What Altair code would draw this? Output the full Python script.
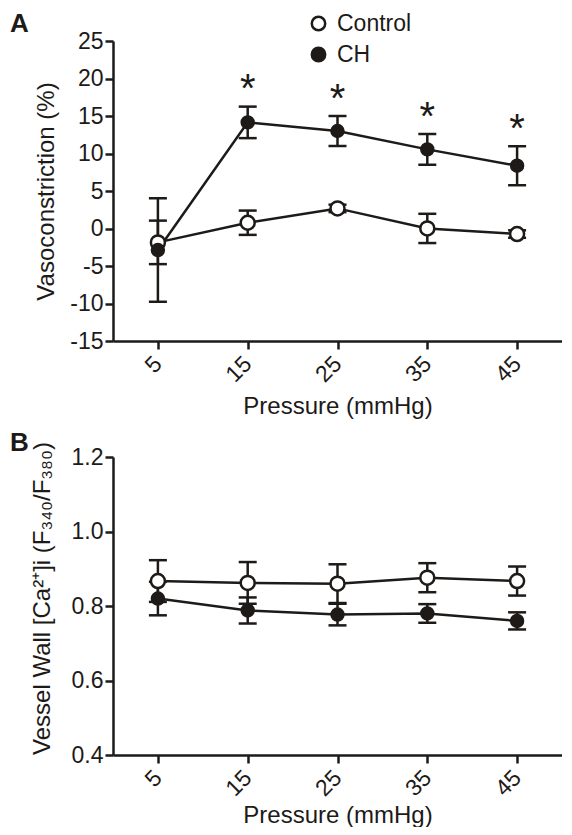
import altair as alt
import pandas as pd

# ---------------- data ----------------
pressure = [5, 15, 25, 35, 45]
groups = ["Control", "CH"]

# Panel A: vasoconstriction (%)
vaso_control = [-1.85, 0.77, 2.68, 0.01, -0.74]
vaso_control_se = [2.9, 1.62, 0.5, 1.95, 0.5]
vaso_ch = [-2.87, 14.15, 13.0, 10.55, 8.37]
vaso_ch_se = [6.9, 2.1, 2.0, 2.05, 2.6]
star_pressure = [15, 25, 35, 45]
star_level = [19.6, 18.15, 15.8, 14.15]
vaso_ticks = [-15, -10, -5, 0, 5, 10, 15, 20, 25]

# Panel B: vessel wall [Ca2+]i (F340/F380)
ca_control = [0.867, 0.862, 0.860, 0.876, 0.867]
ca_control_se = [0.056, 0.056, 0.052, 0.039, 0.039]
ca_ch = [0.820, 0.788, 0.777, 0.780, 0.760]
ca_ch_se = [0.045, 0.035, 0.029, 0.025, 0.023]
ca_ticks = [0.4, 0.6, 0.8, 1.0, 1.2]

INK = "#1d1a18"
FONT = "Liberation Sans"


def table(ctrl, ctrl_se, ch, ch_se):
    rows = []
    for g, means, ses in (("Control", ctrl, ctrl_se), ("CH", ch, ch_se)):
        for p, m, s in zip(pressure, means, ses):
            rows.append({"pressure": p, "group": g, "value": m,
                         "lo": m - s, "hi": m + s})
    return pd.DataFrame(rows)


def panel(df, ydomain, yticks, ytitle, label_expr, letter, letter_dy,
          ytitle_x, ytitle_y, xtitle_y, height, legend, stars=None):
    xs = alt.Scale(domain=[0, 50], nice=False, zero=False)
    ys = alt.Scale(domain=ydomain, nice=False, zero=False)
    xaxis = alt.Axis(values=pressure, title="Pressure (mmHg)", labelAngle=315,
                     labelAlign="right", labelBaseline="middle", labelPadding=11,
                     titleX=224.5, titleY=xtitle_y, titleBaseline="alphabetic",
                     titleAlign="center")
    yaxis = alt.Axis(values=yticks, title=ytitle, labelExpr=label_expr,
                     titleAngle=270, titleX=ytitle_x, titleY=ytitle_y,
                     titleAlign="center", titleBaseline="alphabetic")

    def X(f):
        return alt.X(f, type="quantitative", scale=xs, axis=xaxis)

    def Y(f):
        return alt.Y(f, type="quantitative", scale=ys, axis=yaxis)

    fill = alt.Fill("group:N", scale=alt.Scale(domain=groups, range=["white", INK]),
                    legend=legend)
    base = alt.Chart(df)
    bars = base.mark_rule(color=INK, strokeWidth=2.5).encode(
        x=X("pressure"), y=Y("lo"), y2="hi")
    cap_lo = base.mark_tick(color=INK, orient="horizontal", size=18,
                            thickness=2.5, opacity=1).encode(x=X("pressure"), y=Y("lo"))
    cap_hi = base.mark_tick(color=INK, orient="horizontal", size=18,
                            thickness=2.5, opacity=1).encode(x=X("pressure"), y=Y("hi"))
    line = base.mark_line(color=INK, strokeWidth=2.5).encode(
        x=X("pressure"), y=Y("value"), detail="group:N")
    pts_c = base.transform_filter(alt.datum.group == "Control").mark_point(
        filled=True, shape="circle", stroke=INK, strokeWidth=2.5, size=196,
        opacity=1).encode(x=X("pressure"), y=Y("value"), fill=fill)
    pts_h = base.transform_filter(alt.datum.group == "CH").mark_point(
        filled=True, shape="circle", stroke=INK, strokeWidth=2.5, size=143,
        opacity=1).encode(x=X("pressure"), y=Y("value"), fill=fill)
    layers = [bars, cap_lo, cap_hi, line, pts_c, pts_h]
    if stars is not None:
        sdf = pd.DataFrame({"pressure": stars[0], "value": stars[1]})
        layers.append(alt.Chart(sdf).mark_text(text="*", font=FONT, fontSize=40,
                                               color=INK, baseline="middle", dy=8)
                      .encode(x=X("pressure"), y=Y("value")))
    return alt.layer(*layers).properties(
        width=449, height=height,
        title=alt.TitleParams(text=letter, anchor="start", frame="group",
                              orient="top", font=FONT, fontSize=26,
                              fontWeight="bold", color=INK, dx=-103, dy=letter_dy),
    )


legendA = alt.Legend(orient="none", legendX=194, legendY=-29, title=None,
                     direction="vertical", labelFont=FONT, labelFontSize=23,
                     labelColor=INK, symbolType="circle", symbolSize=180,
                     symbolStrokeWidth=2.5, symbolStrokeColor=INK,
                     labelOffset=7, rowPadding=6, padding=0)

A = panel(table(vaso_control, vaso_control_se, vaso_ch, vaso_ch_se),
          [-15, 25], vaso_ticks, "Vasoconstriction (%)", "'' + datum.value",
          "A", 29, -60, 150, 72, 300, legendA, stars=(star_pressure, star_level))
B = panel(table(ca_control, ca_control_se, ca_ch, ca_ch_se),
          [0.4, 1.2], ca_ticks,
          "Vessel Wall [Ca\u00b2\u207a]i (F\u2083\u2084\u2080/F\u2083\u2088\u2080)",
          "format(datum.value, '.1f')", "B", 19, -64, 141, 67, 298, None)

chart = (
    alt.vconcat(A, B, spacing=12)
    .resolve_scale(x="independent", y="independent", fill="independent")
    .resolve_legend(fill="independent")
    .properties(padding={"left": 2, "top": 3, "right": 0, "bottom": 0})
    .configure_view(stroke=None)
    .configure_axis(domainColor=INK, domainWidth=2.5, tickColor=INK, tickWidth=2.5,
                    tickSize=8, grid=False, labelFont=FONT, labelFontSize=23,
                    labelColor=INK, titleFont=FONT, titleFontSize=24,
                    titleFontWeight="normal", titleColor=INK)
)

chart.save("out.html", embed_options={"renderer": "svg", "actions": False})
